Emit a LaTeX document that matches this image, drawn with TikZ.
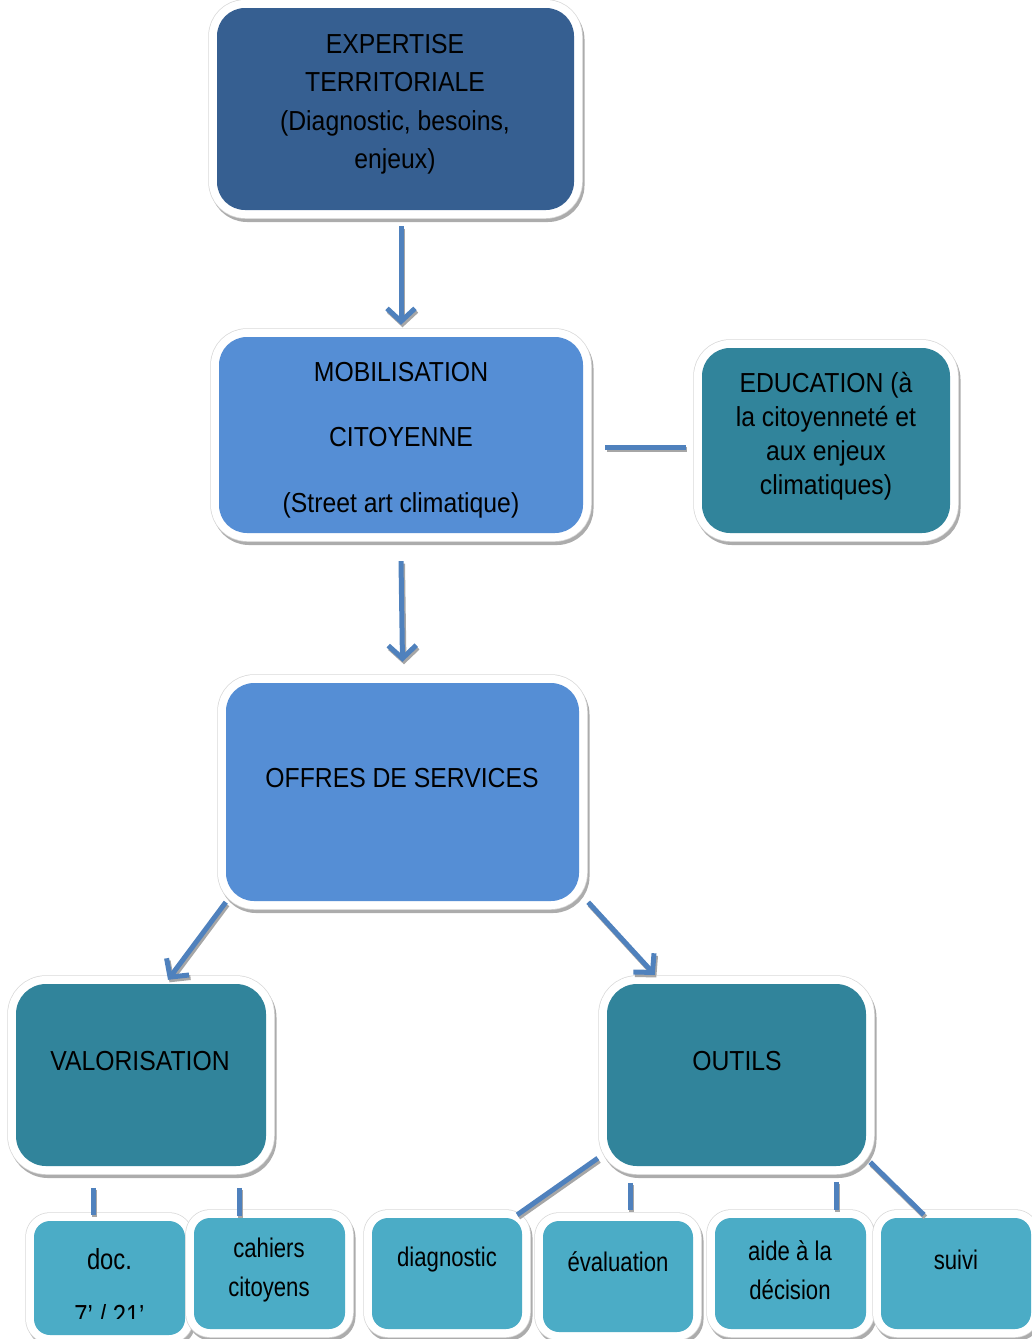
\documentclass[tikz,border=0pt]{standalone}
\usepackage{fontspec}
\setmainfont{Liberation Sans}[FakeStretch=0.82]
\newfontfamily\widef{Liberation Sans}[FakeStretch=0.9]
\usetikzlibrary{arrows.meta,calc}
\definecolor{dkblue}{RGB}{54,95,145}
\definecolor{mdblue}{RGB}{85,142,213}
\definecolor{tealA}{RGB}{49,132,155}
\definecolor{tealB}{RGB}{75,172,198}
\definecolor{cblue}{RGB}{79,129,189}
\tikzset{
  box/.style 2 args={fill=#1, rounded corners=#2, inner sep=0pt, line join=round, rectangle,
    preaction={draw=gray!65, line width=17pt, transform canvas={shift={(2pt,-3.5pt)}}},
    preaction={draw=gray!30, line width=17.5pt},
    preaction={draw=white, line width=16pt}},
  txt/.style={align=center, inner sep=0pt, font=\fontsize{27}{38.5}\selectfont},
  btxt/.style={align=center, inner sep=0pt, font=\widef\fontsize{27.5}{38.5}\selectfont},
  conn/.style={draw=cblue, line width=5pt,
    preaction={draw=gray!70, line width=5pt, transform canvas={shift={(1.5pt,-2.5pt)}}}},
  arr/.style={conn, -{Straight Barb[length=13pt,width=28pt]}}
}
\begin{document}
\begin{tikzpicture}[x=1pt,y=-1pt]
\useasboundingbox (0,0) rectangle (1032,1339);
% main boxes
\node[box={dkblue}{28pt}, minimum width=357pt, minimum height=202pt] (e) at (395.5,109) {};
\node[box={mdblue}{28pt}, minimum width=364pt, minimum height=196pt] (m) at (401,435) {};
\node[box={tealA}{28pt}, minimum width=248pt, minimum height=185pt] (edu) at (826,440.5) {};
\node[box={mdblue}{28pt}, minimum width=353pt, minimum height=218pt] (o) at (402.5,792) {};
\node[box={tealA}{30pt}, minimum width=250pt, minimum height=182pt] (v) at (141,1075) {};
\node[box={tealA}{30pt}, minimum width=259pt, minimum height=182pt] (ou) at (736.5,1075) {};
% bottom boxes
\node[box={tealB}{16pt}, minimum width=151pt, minimum height=114pt] (doc) at (109.5,1278) {};
\node[box={tealB}{16pt}, minimum width=151pt, minimum height=111pt] (cah) at (269.5,1273.5) {};
\node[box={tealB}{16pt}, minimum width=150pt, minimum height=111pt] (dg) at (447,1273.5) {};
\node[box={tealB}{16pt}, minimum width=150pt, minimum height=111pt] (ev) at (618,1276.5) {};
\node[box={tealB}{16pt}, minimum width=151pt, minimum height=111pt] (ai) at (790.5,1273.5) {};
\node[box={tealB}{16pt}, minimum width=150pt, minimum height=111pt] (su) at (956,1273.5) {};
% texts
\node[btxt] (te) at (395,104) {EXPERTISE\\TERRITORIALE\\(Diagnostic, besoins,\\enjeux)};
\node[btxt, font=\widef\fontsize{27.5}{65.5}\selectfont] (tm) at (401,440) {MOBILISATION\\CITOYENNE\\(Street art climatique)};
\node[btxt, font=\widef\fontsize{27.5}{34}\selectfont] (tedu) at (826,436) {EDUCATION (à\\la citoyenneté et\\aux enjeux\\climatiques)};
\node[btxt] (to) at (402,778) {OFFRES DE SERVICES};
\node[btxt] (tv) at (140,1061) {VALORISATION};
\node[btxt] (tou) at (737,1061) {OUTILS};
\begin{scope}
\clip (30,1200) rectangle (190,1318);
\node[txt, font=\fontsize{29}{56}\selectfont] (tdoc) at (109.5,1287) {doc.\\7’ / 21’};
\end{scope}
\node[txt] (tcah) at (269,1270) {cahiers\\citoyens};
\node[txt] (tdg) at (447,1260) {diagnostic};
\node[txt] (tev) at (618,1262) {évaluation};
\node[txt] (tai) at (790,1270) {aide à la\\décision};
\node[txt] (tsu) at (956,1260) {suivi};
% connectors
\draw[arr] (m.north |- e.south) ++(0,16) coordinate (a1s) -- ($(m.north)+(0,-12)$);
\draw[arr] ($(m.south)+(0,28)$) -- ($(o.north)+(0,-21)$);
\draw[conn] ($(m.east)+(22,12)$) -- ($(edu.west)+(-16,6.5)$);
\draw[arr] ($(o.south west)+(0,1)$) -- ($(v.north)+(27,-4)$);
\draw[arr] ($(o.south east)+(9,1)$) -- ($(ou.north west)+(48,-9)$);
\draw[conn] ($(doc.north)+(-16.5,-33)$) -- ($(doc.north)+(-16.5,-6)$);
\draw[conn] ($(cah.north)+(-30.5,-30)$) -- ($(cah.north)+(-30.5,-2)$);
\draw[conn] ($(ou.south west)+(-9,-8)$) -- ($(dg.north east)+(-5,-3)$);
\draw[conn] ($(ev.north)+(12,-38)$) -- ($(ev.north)+(12,-11)$);
\draw[conn] ($(ai.north)+(45.5,-36)$) -- ($(ai.north)+(45.5,-8)$);
\draw[conn] ($(ou.south east)+(4,-4)$) -- ($(su.north west)+(43,-3)$);
\end{tikzpicture}
\end{document}
